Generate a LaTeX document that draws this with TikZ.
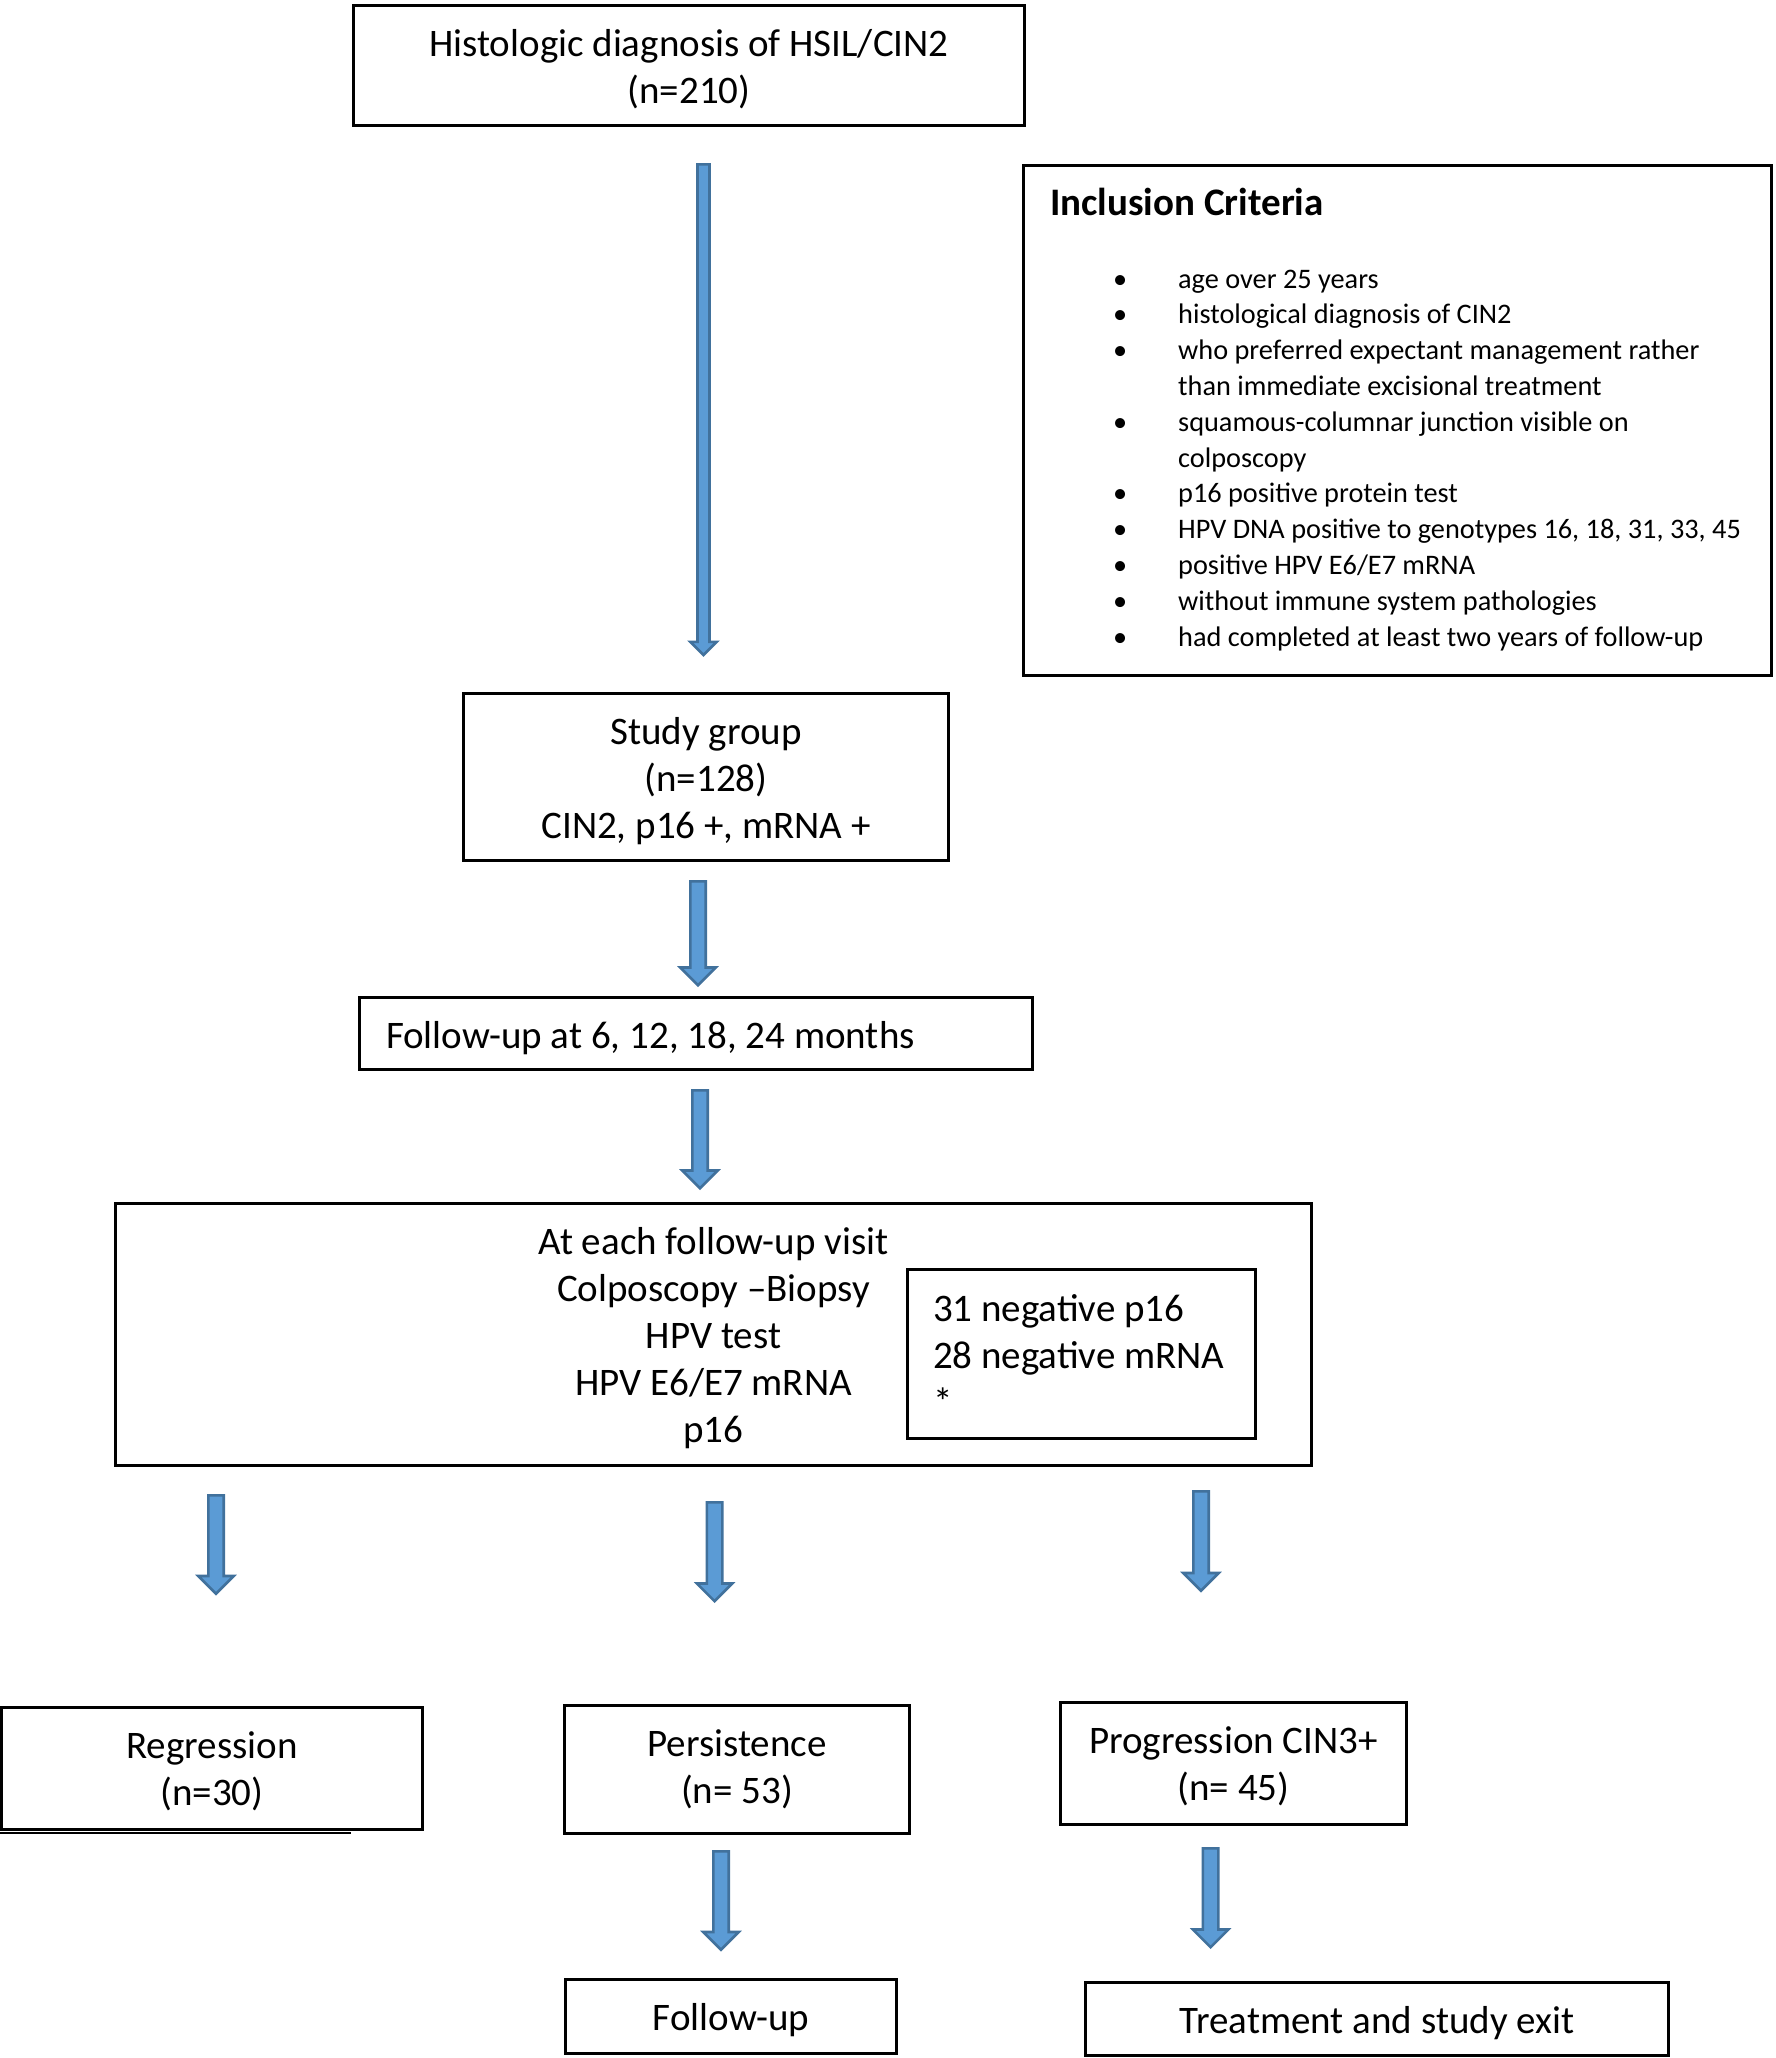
\documentclass[tikz,border=0pt]{standalone}
\usepackage{fontspec}
\setmainfont{Carlito}
\usetikzlibrary{calc}
\definecolor{arrowfill}{HTML}{5B9BD5}
\definecolor{arrowline}{HTML}{41719C}
\newcommand\mainsize{\fontsize{39}{47}\selectfont}
\newcommand\listsize{\fontsize{28.3}{35.8}\selectfont}
\newcommand\natsp{\spaceskip=0pt\xspaceskip=0pt\relax}
\newcommand\bul{\makebox[65pt][l]{\textbullet}}
% centred / left text block, lowered by #1 without changing its extents
\newcommand\ctext[2][5pt]{\raisebox{-#1}[\height][\depth]{\begin{tabular}{@{}c@{}}#2\end{tabular}}}
\newcommand\ltext[2][5pt]{\raisebox{-#1}[\height][\depth]{\natsp\begin{tabular}{@{}l@{}}#2\end{tabular}}}
\tikzset{
  box/.style={draw=black, line width=3pt, rectangle, inner sep=0pt, font=\mainsize},
  blockarrow/.style={fill=arrowfill, draw=arrowline, line width=2.6pt},
}
% block arrow between two named coordinates: #1 start, #2 tip, #3 shaft half width, #4 head half width
\newcommand\blkarrow[4]{%
  \draw[blockarrow] let \p1=(#1), \p2=(#2) in
    (\x1-#3,\y1) -- (\x1+#3,\y1) -- (\x1+#3,\y2+#4) -- (\x1+#4,\y2+#4) --
    (\x1,\y2) -- (\x1-#4,\y2+#4) -- (\x1-#3,\y2+#4) -- cycle;}
\begin{document}
\begin{tikzpicture}[x=1pt,y=-1pt]
\useasboundingbox (0,0) rectangle (1776,2058);
\fill[white] (0,0) rectangle (1776,2058);

% boxes
\node[box, minimum width=671pt, minimum height=120pt] (diag) at (689,65.5)
  {\ctext{Histologic diagnosis of HSIL/CIN2\\(n=210)}};
\node[box, minimum width=748pt, minimum height=510pt] (incl) at (1397.5,420.5) {};
\node[anchor=base west, inner sep=0pt, font=\mainsize\bfseries] (inclhead) at (1050,215.5)
  {Inclusion Criteria};
\node[anchor=base west, inner sep=0pt, text width=640pt, align=left, font=\listsize] (crit) at (1113,288)
  {\natsp
   \bul age over 25 years\\
   \bul histological diagnosis of CIN2\\
   \bul who preferred expectant management rather\\
   \hspace*{65pt}than immediate excisional treatment\\
   \bul squamous-columnar junction visible on\\
   \hspace*{65pt}colposcopy\\
   \bul p16 positive protein test\\
   \bul HPV DNA positive to genotypes 16, 18, 31, 33, 45\\
   \bul positive HPV E6/E7 mRNA\\
   \bul without immune system pathologies\\
   \bul had completed at least two years of follow-up};

\node[box, line width=2.5pt, minimum width=485pt, minimum height=167pt] (study) at (706,777)
  {\ctext{Study group\\(n=128)\\CIN2, p16 +, mRNA +}};
\node[box, line width=2.5pt, minimum width=673pt, minimum height=72pt, text width=620pt,
  inner xsep=26.5pt] (fu) at (696,1033.5)
  {\natsp\ltext[6pt]{Follow-up at 6, 12, 18, 24 months}};
\node[box, line width=2.5pt, minimum width=1196pt, minimum height=262pt] (visit) at (713.5,1334.5)
  {\ctext{At each follow-up visit\\Colposcopy –Biopsy\\HPV test\\HPV E6/E7 mRNA\\p16}};
\node[box, line width=2.5pt, minimum width=348pt, minimum height=169pt, text width=297pt,
  inner xsep=25.5pt] (neg) at (1081.5,1354)
  {\natsp\ltext[4.8pt]{31 negative p16\\28 negative mRNA\\{*}}};

\node[box, minimum width=421pt, minimum height=122pt] (reg) at (212,1768.5)
  {\ctext[4.5pt]{Regression\\(n=30)}};
\draw[line width=2.5pt] (0,1833) -- (351,1833);
\node[box, minimum width=345pt, minimum height=128pt] (per) at (737,1769.5)
  {\ctext[1pt]{Persistence\\(n= 53)}};
\node[box, minimum width=346pt, minimum height=122pt] (prog) at (1233.5,1763.5)
  {\ctext[4pt]{Progression CIN3+\\(n= 45)}};
\node[box, minimum width=331pt, minimum height=74pt] (fu2) at (731,2016.5)
  {\ctext{Follow-up}};
\node[box, minimum width=583pt, minimum height=73pt] (treat) at (1377,2019)
  {\ctext{Treatment and study exit}};

% arrow end points
\coordinate (a1s) at (703.5,164.4);  \coordinate (a1e) at (703.5,655);
\coordinate (a2s) at (698,881.3);    \coordinate (a2e) at (698,985.2);
\coordinate (a3s) at (700,1090.3);   \coordinate (a3e) at (700,1188.2);
\coordinate (aRs) at (216,1495.3);   \coordinate (aRe) at (216,1593.7);
\coordinate (aPs) at (714.6,1502.3); \coordinate (aPe) at (714.6,1601.2);
\coordinate (aGs) at (1201,1491.3);  \coordinate (aGe) at (1201,1590.7);
\coordinate (aDs) at (721,1851.3);   \coordinate (aDe) at (721,1949.7);
\coordinate (aEs) at (1210.6,1848.3);\coordinate (aEe) at (1210.6,1947.2);

\blkarrow{a1s}{a1e}{6pt}{13.2pt}
\blkarrow{a2s}{a2e}{7.7pt}{17.7pt}
\blkarrow{a3s}{a3e}{7.7pt}{17.7pt}
\blkarrow{aRs}{aRe}{7.7pt}{17.7pt}
\blkarrow{aPs}{aPe}{7.7pt}{17.7pt}
\blkarrow{aGs}{aGe}{7.7pt}{17.7pt}
\blkarrow{aDs}{aDe}{7.7pt}{17.7pt}
\blkarrow{aEs}{aEe}{7.7pt}{17.7pt}
\end{tikzpicture}
\end{document}
